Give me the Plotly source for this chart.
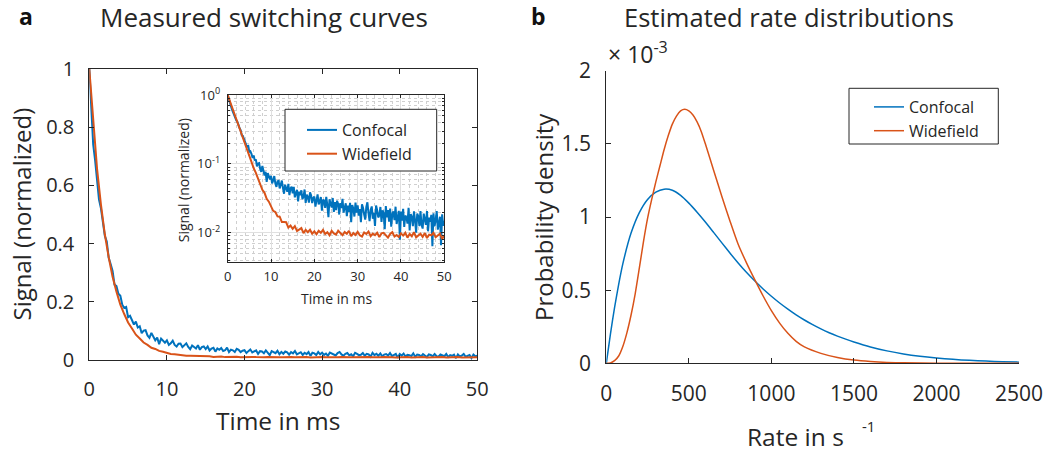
import numpy as np
import plotly.graph_objects as go

W, H = 1057, 454
BLUE = "#0072BD"
ORANGE = "#D95319"
AX = "#262626"
FONT = "Open Sans"

# ---------------- Panel a: measured switching curves ----------------
series_names = ["Confocal", "Widefield"]
confocal_step_ms = 0.25
confocal_signal = [
    1.000, 0.853, 0.741, 0.686, 0.613, 0.551, 0.521, 0.474, 0.427, 0.407, 0.351, 0.330, 0.306, 0.259, 0.254, 0.228, 0.221, 0.190, 0.179, 0.182,
    0.147, 0.152, 0.139, 0.122, 0.132, 0.1115, 0.116, 0.092, 0.101, 0.1025, 0.0844, 0.0764, 0.0932, 0.081, 0.0678, 0.0768, 0.0546, 0.0737, 0.0672, 0.0596,
    0.0672, 0.0522, 0.0576, 0.0666, 0.0517, 0.0464, 0.0561, 0.0568, 0.0440, 0.0503, 0.0572, 0.0449, 0.0369, 0.0499, 0.0455, 0.0393, 0.0511, 0.0352, 0.0442, 0.0466,
    0.0375, 0.0464, 0.0327, 0.0395, 0.0421, 0.0286, 0.0397, 0.0352, 0.0413, 0.0309, 0.0335, 0.0425, 0.0271, 0.0357, 0.0333, 0.0274, 0.0385, 0.0350, 0.0270, 0.0320,
    0.0336, 0.0239, 0.0304, 0.0360, 0.0259, 0.0283, 0.0330, 0.0210, 0.0303, 0.0291, 0.0230, 0.0331, 0.0252, 0.0168, 0.0306, 0.0267, 0.0233, 0.0320, 0.0201, 0.0279,
    0.0214, 0.0292, 0.0262, 0.0184, 0.0270, 0.0228, 0.0310, 0.0196, 0.0234, 0.0268, 0.0174, 0.0248, 0.0202, 0.0272, 0.0142, 0.0252, 0.0226, 0.0172, 0.0274, 0.0196,
    0.0250, 0.0177, 0.0220, 0.0143, 0.0258, 0.0229, 0.0184, 0.0155, 0.0238, 0.0277, 0.0192, 0.0147, 0.0214, 0.0241, 0.0160, 0.0195, 0.0126, 0.0249, 0.0212, 0.0167,
    0.0178, 0.0237, 0.0144, 0.0211, 0.0190, 0.0113, 0.0244, 0.0167, 0.0214, 0.0145, 0.0224, 0.0123, 0.0186, 0.0205, 0.0152, 0.0239, 0.0134, 0.0165, 0.0208, 0.0079,
    0.0204, 0.0150, 0.0222, 0.0122, 0.0178, 0.0167, 0.0136, 0.0230, 0.0108, 0.0187, 0.0171, 0.0125, 0.0204, 0.0150, 0.0100, 0.0190, 0.0174, 0.0125, 0.0207, 0.0130,
    0.0115, 0.0190, 0.0161, 0.0131, 0.0207, 0.0105, 0.0166, 0.0144, 0.0182, 0.0064, 0.0192, 0.0124, 0.0152, 0.0206, 0.0111, 0.0133, 0.0171, 0.0066, 0.0185, 0.0126,
    0.0150,
]
widefield_step_ms = 0.5
widefield_signal = [
    1.000, 0.812, 0.657, 0.534, 0.432, 0.353, 0.286, 0.235, 0.190, 0.158,
    0.129, 0.108, 0.087, 0.074, 0.060, 0.052, 0.042, 0.038, 0.0312, 0.0283,
    0.0248, 0.0208, 0.0200, 0.0173, 0.0171, 0.0143, 0.0143, 0.0142, 0.0119, 0.0127,
    0.0114, 0.0125, 0.0106, 0.0113, 0.0117, 0.0099, 0.0110, 0.0102, 0.0111, 0.0097,
    0.0105, 0.0095, 0.0107, 0.0100, 0.0110, 0.0096, 0.0102, 0.0092, 0.0107, 0.0098,
    0.0094, 0.0107, 0.0100, 0.0092, 0.0103, 0.0097, 0.0107, 0.0089, 0.0099, 0.0093,
    0.0103, 0.0092, 0.0088, 0.0101, 0.0096, 0.0104, 0.0089, 0.0097, 0.0092, 0.0100,
    0.0087, 0.0098, 0.0100, 0.0092, 0.0085, 0.0096, 0.0102, 0.0088, 0.0093, 0.0087,
    0.0098, 0.0091, 0.0100, 0.0085, 0.0096, 0.0089, 0.0102, 0.0086, 0.0093, 0.0097,
    0.0087, 0.0099, 0.0084, 0.0094, 0.0092, 0.0100, 0.0086, 0.0090, 0.0097, 0.0081,
    0.0092,
]
# uniform sampling grid of the recorded traces
confocal_time = np.arange(len(confocal_signal)) * confocal_step_ms
widefield_time = np.arange(len(widefield_signal)) * widefield_step_ms

time_ticks = [0, 10, 20, 30, 40, 50]
signal_ticks = [0, 0.2, 0.4, 0.6, 0.8, 1]
inset_log_ticks = [1, 0.1, 0.01]
inset_log_labels = ["10<sup>0</sup>", "10<sup>-1</sup>", "10<sup>-2</sup>"]

# ---------------- Panel b: estimated rate distributions ----------------
confocal_rate = [0, 25, 50, 75, 100, 150, 200, 250, 300, 350, 400, 450, 500, 550, 600, 650, 700, 750, 800,
                 850, 900, 950, 1000, 1050, 1100, 1150, 1200, 1250, 1300, 1350, 1400, 1450, 1500, 1600, 1700,
                 1800, 1900, 2000, 2100, 2200, 2300, 2400, 2500]
confocal_density_e3 = [0, 0.20, 0.38, 0.54, 0.68, 0.89, 1.03, 1.12, 1.17, 1.19, 1.183, 1.148, 1.095, 1.033, 0.966,
                       0.895, 0.823, 0.752, 0.684, 0.620, 0.562, 0.508, 0.458, 0.412, 0.370, 0.331, 0.296, 0.264,
                       0.235, 0.209, 0.186, 0.165, 0.146, 0.112, 0.085, 0.064, 0.048, 0.036, 0.027, 0.020, 0.015,
                       0.011, 0.008]
widefield_rate = [0, 25, 50, 75, 100, 125, 150, 175, 200, 225, 250, 275, 300, 325, 350, 375, 400, 425, 450,
                  475, 500, 525, 550, 575, 600, 650, 700, 750, 800, 850, 900, 950, 1000, 1050, 1100, 1150,
                  1200, 1300, 1400, 1500, 1600, 1700, 1800, 2000, 2500]
widefield_density_e3 = [0, 0.002, 0.018, 0.05, 0.115, 0.21, 0.33, 0.475, 0.65, 0.83, 0.99, 1.12, 1.24, 1.35, 1.46,
                        1.555, 1.635, 1.69, 1.725, 1.736, 1.725, 1.697, 1.65, 1.585, 1.50, 1.32, 1.14, 0.97, 0.81,
                        0.685, 0.57, 0.46, 0.36, 0.275, 0.205, 0.15, 0.112, 0.068, 0.04, 0.022, 0.012, 0.006,
                        0.003, 0.001, 0]
rate_ticks = [0, 500, 1000, 1500, 2000, 2500]
density_ticks = [0, 0.5, 1, 1.5, 2]


def fx(px):
    return px / W


def fy(py):
    return 1 - py / H


fig = go.Figure()

# main panel a
for t, s, c in [(confocal_time, confocal_signal, BLUE), (widefield_time, widefield_signal, ORANGE)]:
    fig.add_trace(go.Scatter(x=t, y=s, mode="lines", line=dict(color=c, width=2),
                             xaxis="x", yaxis="y", showlegend=False, hoverinfo="skip"))
# inset
for t, s, c, n in [(confocal_time, confocal_signal, BLUE, series_names[0]),
                   (widefield_time, widefield_signal, ORANGE, series_names[1])]:
    fig.add_trace(go.Scatter(x=t, y=s, mode="lines", line=dict(color=c, width=2), name=n,
                             xaxis="x2", yaxis="y2", legend="legend", showlegend=True))
# panel b
for r, d, c, n in [(confocal_rate, confocal_density_e3, BLUE, series_names[0]),
                   (widefield_rate, widefield_density_e3, ORANGE, series_names[1])]:
    fig.add_trace(go.Scatter(x=r, y=d, mode="lines", line=dict(color=c, width=1.5, shape="spline", smoothing=0.6),
                             name=n, xaxis="x3", yaxis="y3", legend="legend2", showlegend=True))

base = dict(showline=True, linecolor=AX, linewidth=1, ticks="inside", tickcolor=AX, tickwidth=1,
            showgrid=False, zeroline=False, automargin=False)

minor_log = [m * 10.0 ** e for e in (-3, -2, -1) for m in range(2, 10)]

fig.update_layout(
    template="none",
    width=W, height=H, autosize=False,
    margin=dict(l=0, r=0, t=0, b=0, pad=0),
    paper_bgcolor="white", plot_bgcolor="white",
    font=dict(family=FONT, color=AX),
    xaxis=dict(base, domain=[fx(89.3), fx(477.3)], anchor="y", range=[0, 50], tickvals=time_ticks,
               mirror="ticks", ticklen=5, ticklabelstandoff=11, tickfont=dict(size=20, color=AX)),
    yaxis=dict(base, domain=[fy(360), fy(69)], anchor="x", range=[0, 1], tickvals=signal_ticks,
               mirror="ticks", ticklen=5, ticklabelstandoff=10, tickfont=dict(size=20, color=AX)),
    xaxis2=dict(base, domain=[fx(227.7), fx(444.3)], anchor="y2", range=[0, 50], tickvals=time_ticks,
                mirror="ticks", ticklen=3, showgrid=True, gridcolor="#e0e0e0", gridwidth=1,
                minor=dict(dtick=2, showgrid=True, gridcolor="#cfcfcf", griddash="dot", gridwidth=1, ticks=""),
                ticklabelstandoff=3, tickfont=dict(size=13, color=AX)),
    yaxis2=dict(base, domain=[fy(261.7), fy(95)], anchor="x2", type="log", range=[-2.42, 0],
                tickvals=inset_log_ticks, ticktext=inset_log_labels,
                mirror="ticks", ticklen=3, showgrid=True, gridcolor="#e0e0e0", gridwidth=1,
                minor=dict(tickvals=minor_log, showgrid=True, gridcolor="#cfcfcf", griddash="dot", gridwidth=1,
                           ticks="inside", ticklen=2, tickcolor=AX),
                ticklabelstandoff=4, tickfont=dict(size=13, color=AX)),
    xaxis3=dict(base, domain=[fx(606.3), fx(1019)], anchor="y3", range=[0, 2500], tickvals=rate_ticks,
                ticklen=5, ticklabelstandoff=11, tickfont=dict(size=21, color=AX)),
    yaxis3=dict(base, domain=[fy(363.3), fy(70.7)], anchor="x3", range=[0, 2], tickvals=density_ticks,
                ticklen=5, ticklabelstandoff=10, tickfont=dict(size=21, color=AX)),
    legend=dict(x=fx(302), y=fy(113), xanchor="left", yanchor="top", bgcolor="rgba(0,0,0,0)",
                borderwidth=0, font=dict(family=FONT, size=16, color=AX), tracegroupgap=0),
    legend2=dict(x=fx(869), y=fy(90), xanchor="left", yanchor="top", bgcolor="rgba(0,0,0,0)",
                 borderwidth=0, font=dict(family=FONT, size=16, color=AX), tracegroupgap=0),
    shapes=[
        dict(type="rect", xref="paper", yref="paper", x0=fx(285), x1=fx(436.7), y0=fy(171), y1=fy(109.3),
             line=dict(color=AX, width=1), fillcolor="white", layer="above"),
        dict(type="rect", xref="paper", yref="paper", x0=fx(849), x1=fx(998.3), y0=fy(144), y1=fy(88.3),
             line=dict(color=AX, width=1), fillcolor="white", layer="above"),
    ],
)

ann = []


def add_text(text, x, y, size, angle=0, bold=False, xanchor="center", yanchor="middle"):
    ann.append(dict(text=("<b>%s</b>" % text) if bold else text, x=fx(x), y=fy(y), xref="paper", yref="paper",
                    showarrow=False, textangle=angle, xanchor=xanchor, yanchor=yanchor,
                    font=dict(family=FONT, size=size, color=AX if not bold else "#111111")))


add_text("a", 25.5, 16, 23, bold=True)
add_text("b", 538, 16, 23, bold=True)
add_text("Measured switching curves", 263.5, 17, 26)
add_text("Estimated rate distributions", 789, 17, 25.5)
add_text("Signal (normalized)", 21, 214.5, 24, angle=-90)
add_text("Time in ms", 277.5, 420, 24.5)
add_text("Probability density", 543, 217, 24, angle=-90)
add_text("Rate in s", 795, 436, 24.5)
add_text("-1", 868, 426, 15)
add_text("× 10<sup>-3</sup>", 606, 53, 23, xanchor="left")
add_text("Signal (normalized)", 183.3, 180, 14, angle=-90)
add_text("Time in ms", 336, 298, 14)
fig.update_layout(annotations=ann)

# the page has a default body margin; remove it so the figure fills the window exactly
fig.write_html("out.html", config={"displayModeBar": False},
               post_script="document.body.style.margin='0';document.body.style.overflow='hidden';")
